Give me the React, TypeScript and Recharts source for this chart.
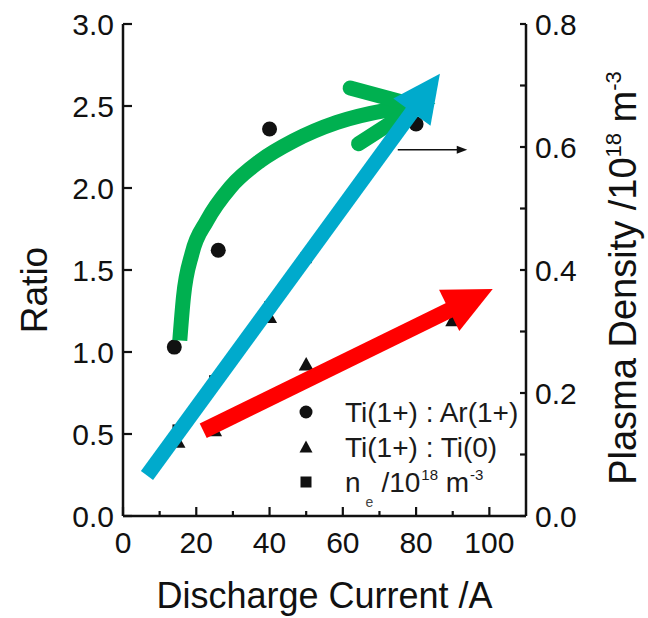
import { ComposedChart, Line, XAxis, YAxis, Legend, Curve } from 'recharts'

const INK = '#111'
const FONT = '"Liberation Sans", Arial, Helvetica, sans-serif'

// measured series
const tiArRatio = [
  { x: 14, y: 1.03 },
  { x: 26, y: 1.62 },
  { x: 40, y: 2.36 },
  { x: 80, y: 2.39 },
]
const tiTiRatio = [
  { x: 15, y: 0.45 },
  { x: 25, y: 0.52 },
  { x: 40, y: 1.21 },
  { x: 50, y: 0.92 },
  { x: 90, y: 1.19 },
]
// n_e, right axis (mostly hidden under the blue arrow)
const plasmaDensity = [
  { x: 15, y: 0.14 },
  { x: 25, y: 0.22 },
  { x: 40, y: 0.34 },
  { x: 50, y: 0.42 },
  { x: 80, y: 0.67 },
]

// hand drawn trend arrows, in ratio-axis units
const greenCurve = [
  { x: 15.5, y: 1.07 },
  { x: 16.5, y: 1.334 },
  { x: 18.8, y: 1.598 },
  { x: 22.9, y: 1.8 },
  { x: 29.3, y: 2.004 },
  { x: 37.5, y: 2.166 },
  { x: 46.6, y: 2.288 },
  { x: 58.4, y: 2.4 },
  { x: 72.1, y: 2.475 },
  { x: 78.5, y: 2.497 },
]
const greenHead = [
  { x: 62, y: 2.61 },
  { x: 80.3, y: 2.5 },
  { x: 64.3, y: 2.27 },
]
const blueArrow = [
  { x: 6.55, y: 0.247 },
  { x: 79.1, y: 2.47 },
]
const redArrow = [
  { x: 21.9, y: 0.52 },
  { x: 89.4, y: 1.258 },
]
const rightPointer = [
  { x: 75, y: 2.233 },
  { x: 91.5, y: 2.233 },
]

const xTicks = [0, 10, 20, 30, 40, 50, 60, 70, 80, 90, 100]
const ratioTicks = [0, 0.5, 1, 1.5, 2, 2.5, 3]
const densityTicks = [0, 0.1, 0.2, 0.3, 0.4, 0.5, 0.6, 0.7, 0.8]

const legendRows = ['Ti(1+) : Ar(1+)', 'Ti(1+) : Ti(0)']

type Pt = { x: number; y: number }

function BottomTick(props: any) {
  const { x, y, payload } = props
  const v = payload.value
  const major = v % 20 === 0
  return (
    <g>
      <line x1={x} x2={x} y1={y} y2={y - (major ? 9 : 5)} stroke={INK} strokeWidth={2.2} />
      {major && (
        <text x={x} y={y + 37} textAnchor="middle" fontSize={30} fontFamily={FONT} fill={INK}>
          {v}
        </text>
      )}
    </g>
  )
}

function TopTick(props: any) {
  const { x, y, payload } = props
  const major = payload.value % 20 === 0
  return <line x1={x} x2={x} y1={y} y2={y + (major ? 9 : 5)} stroke={INK} strokeWidth={2.2} />
}

function LeftTick(props: any) {
  const { x, y, payload } = props
  return (
    <g>
      <line x1={x} x2={x + 9} y1={y} y2={y} stroke={INK} strokeWidth={2.2} />
      <text x={x - 9} y={y} dy="0.36em" textAnchor="end" fontSize={30} fontFamily={FONT} fill={INK}>
        {payload.value.toFixed(1)}
      </text>
    </g>
  )
}

function RightTick(props: any) {
  const { x, y, payload } = props
  const v = payload.value
  const major = Math.round(v * 10) % 2 === 0
  return (
    <g>
      <line x1={x} x2={x - 6} y1={y} y2={y} stroke={INK} strokeWidth={2.2} />
      {major && (
        <text x={x + 9} y={y} dy="0.36em" textAnchor="start" fontSize={30} fontFamily={FONT} fill={INK}>
          {v.toFixed(1)}
        </text>
      )}
    </g>
  )
}

const xTitle = (props: any) => {
  const vb = props.viewBox
  return (
    <text x={vb.x + vb.width / 2} y={vb.y + 92} textAnchor="middle" fontSize={36} fontFamily={FONT} fill={INK}>
      Discharge Current /A
    </text>
  )
}

const ratioTitle = (props: any) => {
  const vb = props.viewBox
  const cy = vb.y + vb.height / 2 + 20
  return (
    <text transform={`translate(${vb.x + 47},${cy}) rotate(-90)`} textAnchor="middle" fontSize={37} fontFamily={FONT} fill={INK}>
      Ratio
    </text>
  )
}

const densityTitle = (props: any) => {
  const vb = props.viewBox
  const cy = vb.y + vb.height / 2 + 8
  return (
    <text transform={`translate(${vb.x + 110},${cy}) rotate(-90)`} textAnchor="middle" fontSize={38} fontFamily={FONT} fill={INK}>
      Plasma Density /10
      <tspan dy={-15} fontSize={22}>18</tspan>
      <tspan dy={15}> m</tspan>
      <tspan dy={-15} fontSize={22}>-3</tspan>
    </text>
  )
}

const circleDot = (props: any) => (
  <circle key={`c-${props.index}`} cx={props.cx} cy={props.cy} r={7.5} fill={INK} />
)
const triangleDot = (props: any) => {
  const { cx, cy, index } = props
  return (
    <polygon
      key={`t-${index}`}
      points={`${cx},${cy - 8} ${cx + 7.5},${cy + 5.5} ${cx - 7.5},${cy + 5.5}`}
      fill={INK}
    />
  )
}
const squareDot = (props: any) => (
  <rect key={`s-${props.index}`} x={props.cx - 5.5} y={props.cy - 5.5} width={11} height={11} fill={INK} />
)

// draws the whole annotation from the dot layer, once the last point is known,
// so it stacks above the data markers
function overlay(count: number, draw: (pts: Pt[]) => any) {
  let acc: Pt[] = []
  return (props: any) => {
    const { cx, cy, index, points } = props
    if (index === 0) acc = []
    acc.push({ x: cx, y: cy })
    const n = points ? points.length : count
    if (index !== n - 1) return <g key={`o-${index}`} />
    const pts: Pt[] = points ? points.map((p: any) => ({ x: p.x, y: p.y })) : acc
    return <g key={`o-${index}`}>{draw(pts)}</g>
  }
}

function straightArrow(width: number, len: number, half: number, color: string) {
  return (pts: Pt[]) => {
    const a = pts[0]
    const b = pts[pts.length - 1]
    const dx = b.x - a.x
    const dy = b.y - a.y
    const d = Math.hypot(dx, dy) || 1
    const ux = dx / d
    const uy = dy / d
    const bx = b.x - ux * 1.5
    const by = b.y - uy * 1.5
    const head = [
      [bx - uy * half, by + ux * half],
      [b.x + ux * len, b.y + uy * len],
      [bx + uy * half, by - ux * half],
    ]
    return (
      <>
        <line x1={a.x} y1={a.y} x2={b.x} y2={b.y} stroke={color} strokeWidth={width} strokeLinecap="butt" />
        <polygon points={head.map(q => q.join(',')).join(' ')} fill={color} />
      </>
    )
  }
}

const drawGreenCurve = (pts: Pt[]) => (
  <Curve type="monotone" points={pts} stroke="#00B050" strokeWidth={15} fill="none" strokeLinecap="butt" />
)
const drawGreenHead = (pts: Pt[]) => (
  <polyline
    points={pts.map(p => `${p.x},${p.y}`).join(' ')}
    fill="none"
    stroke="#00B050"
    strokeWidth={15}
    strokeLinecap="round"
    strokeLinejoin="miter"
  />
)

function LegendBox() {
  const text = { fontSize: 28, fontFamily: FONT, color: '#1a1a1a', lineHeight: '35px', whiteSpace: 'nowrap' as const }
  const row = { position: 'relative' as const, height: 35 }
  const sym = { position: 'absolute' as const, left: 0, top: 7 }
  const label = { position: 'absolute' as const, left: 49, top: 0, ...text }
  return (
    <div style={{ width: 240 }}>
      <div style={row}>
        <svg width={20} height={20} style={sym}>
          <circle cx={10} cy={10} r={6.5} fill={INK} />
        </svg>
        <span style={label}>{legendRows[0]}</span>
      </div>
      <div style={row}>
        <svg width={20} height={20} style={sym}>
          <polygon points="10,3.5 16.5,15.5 3.5,15.5" fill={INK} />
        </svg>
        <span style={label}>{legendRows[1]}</span>
      </div>
      <div style={row}>
        <svg width={20} height={20} style={sym}>
          <rect x={4.5} y={4.5} width={11} height={11} fill={INK} />
        </svg>
        <span style={label}>
          n
          <span style={{ fontSize: 14, position: 'relative', top: 15, margin: '0 8px 0 5px', color: '#444' }}>e</span>
          /10
          <span style={{ fontSize: 15, position: 'relative', top: -12, marginLeft: 1 }}>18</span>
          {' '}m
          <span style={{ fontSize: 15, position: 'relative', top: -12, marginLeft: 1 }}>-3</span>
        </span>
      </div>
    </div>
  )
}

export default function App() {
  return (
    <div style={{ position: 'absolute', left: 0, top: 0, width: 648, height: 618, background: '#fff' }}>
      <ComposedChart width={648} height={618} margin={{ top: 24, right: 0, bottom: 0, left: 0 }}>
        <XAxis
          dataKey="x"
          type="number"
          domain={[0, 110]}
          ticks={xTicks}
          interval={0}
          height={102}
          tickSize={0}
          tickMargin={0}
          tickLine={false}
          tick={<BottomTick />}
          axisLine={{ stroke: INK, strokeWidth: 2.5 }}
          allowDataOverflow
          label={xTitle}
        />
        <XAxis
          xAxisId="top"
          orientation="top"
          type="number"
          domain={[0, 110]}
          ticks={xTicks}
          interval={0}
          height={0}
          tickSize={0}
          tickMargin={0}
          tickLine={false}
          tick={<TopTick />}
          axisLine={{ stroke: INK, strokeWidth: 2.5 }}
          allowDataOverflow
        />
        <YAxis
          yAxisId="left"
          type="number"
          domain={[0, 3]}
          ticks={ratioTicks}
          interval={0}
          width={123}
          tickSize={0}
          tickMargin={0}
          tickLine={false}
          tick={<LeftTick />}
          axisLine={{ stroke: INK, strokeWidth: 2.5 }}
          allowDataOverflow
          label={ratioTitle}
        />
        <YAxis
          yAxisId="right"
          orientation="right"
          type="number"
          domain={[0, 0.8]}
          ticks={densityTicks}
          interval={0}
          width={122}
          tickSize={0}
          tickMargin={0}
          tickLine={false}
          tick={<RightTick />}
          axisLine={{ stroke: INK, strokeWidth: 2.5 }}
          allowDataOverflow
          label={densityTitle}
        />
        <Legend
          layout="vertical"
          align="center"
          verticalAlign="middle"
          wrapperStyle={{ left: 296, top: 395, width: 240, height: 106 }}
          content={() => <LegendBox />}
        />

        <Line yAxisId="left" data={tiArRatio} dataKey="y" stroke="none" dot={circleDot} activeDot={false} legendType="none" isAnimationActive={false} />
        <Line yAxisId="left" data={tiTiRatio} dataKey="y" stroke="none" dot={triangleDot} activeDot={false} legendType="none" isAnimationActive={false} />
        <Line yAxisId="right" data={plasmaDensity} dataKey="y" stroke="none" dot={squareDot} activeDot={false} legendType="none" isAnimationActive={false} />

        <Line yAxisId="left" data={rightPointer} dataKey="y" stroke="none" dot={overlay(rightPointer.length, straightArrow(1.5, 9, 4, INK))} activeDot={false} legendType="none" isAnimationActive={false} />
        <Line yAxisId="left" data={greenCurve} dataKey="y" stroke="none" dot={overlay(greenCurve.length, drawGreenCurve)} activeDot={false} legendType="none" isAnimationActive={false} />
        <Line yAxisId="left" data={greenHead} dataKey="y" stroke="none" dot={overlay(greenHead.length, drawGreenHead)} activeDot={false} legendType="none" isAnimationActive={false} />
        <Line yAxisId="left" data={redArrow} dataKey="y" stroke="none" dot={overlay(redArrow.length, straightArrow(16, 47, 23, '#FF0000'))} activeDot={false} legendType="none" isAnimationActive={false} />
        <Line yAxisId="left" data={blueArrow} dataKey="y" stroke="none" dot={overlay(blueArrow.length, straightArrow(15, 46, 23, '#00AACC'))} activeDot={false} legendType="none" isAnimationActive={false} />
      </ComposedChart>
    </div>
  )
}
